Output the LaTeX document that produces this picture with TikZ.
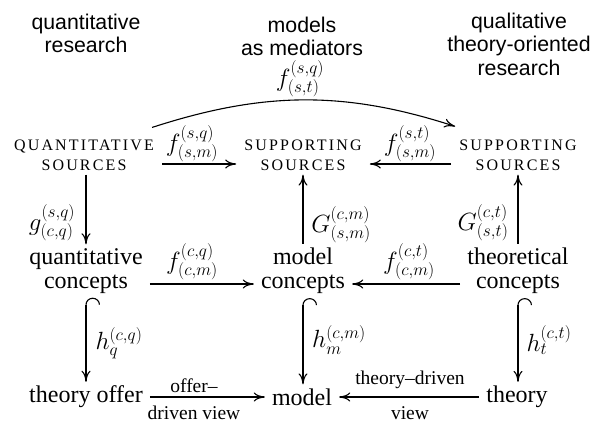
\documentclass[tikz,border=0pt]{standalone}
\usepackage{fontspec}
\setmainfont{Liberation Serif}
\setsansfont{Liberation Sans}
\usetikzlibrary{arrows.meta}
\begin{document}
\begin{tikzpicture}[x=1pt,y=-1pt,
  txt/.style={font=\fontsize{24}{24}\selectfont, align=center, inner xsep=7pt, inner ysep=4pt},
  capbox/.style={font=\fontsize{16}{20}\selectfont\addfontfeature{LetterSpace=13.5}, align=center, inner xsep=8pt, inner ysep=4pt},
  head/.style={font=\fontsize{21.3}{23.5}\selectfont\sffamily, align=center},
  lab/.style={font=\fontsize{23}{24}\selectfont, inner sep=0pt},
  vlab/.style={font=\fontsize{19.5}{20}\selectfont, inner sep=0pt},
  conn/.style={line width=1.1pt, -{Computer Modern Rightarrow[length=11pt,width=9pt]}},
  hookconn/.style={line width=1.1pt, {Hooks[right,width=28pt,length=7pt]}-{Computer Modern Rightarrow[length=11pt,width=9pt]}},
]
\path[use as bounding box] (0,0) rectangle (592,424);

% headers
\node[head] (hq) at (86,33.5) {quantitative\\research};
\node[head] (hm) at (302,36.5) {models\\as mediators};
\node[head] (ht) at (519,44) {qualitative\\theory-oriented\\research};

% sources
\node[capbox] (qs) at (84,155) {QUANTITATIVE\\SOURCES};
\node[capbox] (ms) at (303,155) {SUPPORTING\\SOURCES};
\node[capbox] (ts) at (518,155) {SUPPORTING\\SOURCES};

% concepts
\node[txt] (qc) at (86,271) {quantitative\\concepts};
\node[txt] (mc) at (303,271) {model\\concepts};
\node[txt] (tc) at (518,271) {theoretical\\concepts};

% bottom
\node[txt] (to) at (86,397) {theory offer};
\node[txt] (mo) at (302,397) {model};
\node[txt] (th) at (517,397) {theory};

% connectors
\draw[conn] ([yshift=-9pt]qs.east) -- ([yshift=-9pt]ms.west);
\draw[conn] ([yshift=-9pt]ts.west) -- ([yshift=-9pt]ms.east);
\draw[conn] ([xshift=-10pt,yshift=8pt]qs.north east) .. controls +(111,-36) and +(-111,-36) .. ([xshift=4pt,yshift=9pt]ts.north west);
\draw[conn] (qc.north |- qs.south) -- (qc.north);
\draw[conn] (mc.north) -- (mc.north |- ms.south);
\draw[conn] (tc.north) -- (tc.north |- ts.south);
\draw[conn] ([yshift=-13pt]qc.east) -- ([yshift=-13pt]mc.west);
\draw[conn] ([yshift=-13pt]tc.west) -- ([yshift=-13pt]mc.east);
\draw[hookconn] (qc.south) -- (qc.south |- to.north);
\draw[hookconn] (mc.south) -- (mc.south |- mo.north);
\draw[hookconn] (tc.south) -- (tc.south |- th.north);
\draw[conn] (to) -- (mo);
\draw[conn] (th) -- (mo);

% labels
\node[lab] (l1) at (300,79) {$f^{(s,q)}_{(s,t)}$};
\node[lab] (l2) at (192,144) {$f^{(s,q)}_{(s,m)}$};
\node[lab] (l3) at (410,144) {$f^{(s,t)}_{(s,m)}$};
\node[lab] (l4) at (52,223) {$g^{(s,q)}_{(c,q)}$};
\node[lab] (l5) at (341,225) {$G^{(c,m)}_{(s,m)}$};
\node[lab] (l6) at (483,223) {$G^{(c,t)}_{(s,t)}$};
\node[lab] (l7) at (192,262) {$f^{(c,q)}_{(c,m)}$};
\node[lab] (l8) at (409,262) {$f^{(c,t)}_{(c,m)}$};
\node[lab] (l9) at (119,343) {$h^{(c,q)}_{q}$};
\node[lab] (l10) at (339,340) {$h^{(c,m)}_{m}$};
\node[lab] (l11) at (549,340) {$h^{(c,t)}_{t}$};
\node[vlab] (l12) at (194,386) {offer–};
\node[vlab] (l13) at (194,413) {driven view};
\node[vlab] (l14) at (410,380) {theory–driven};
\node[vlab] (l15) at (410,413) {view};
\end{tikzpicture}
\end{document}
